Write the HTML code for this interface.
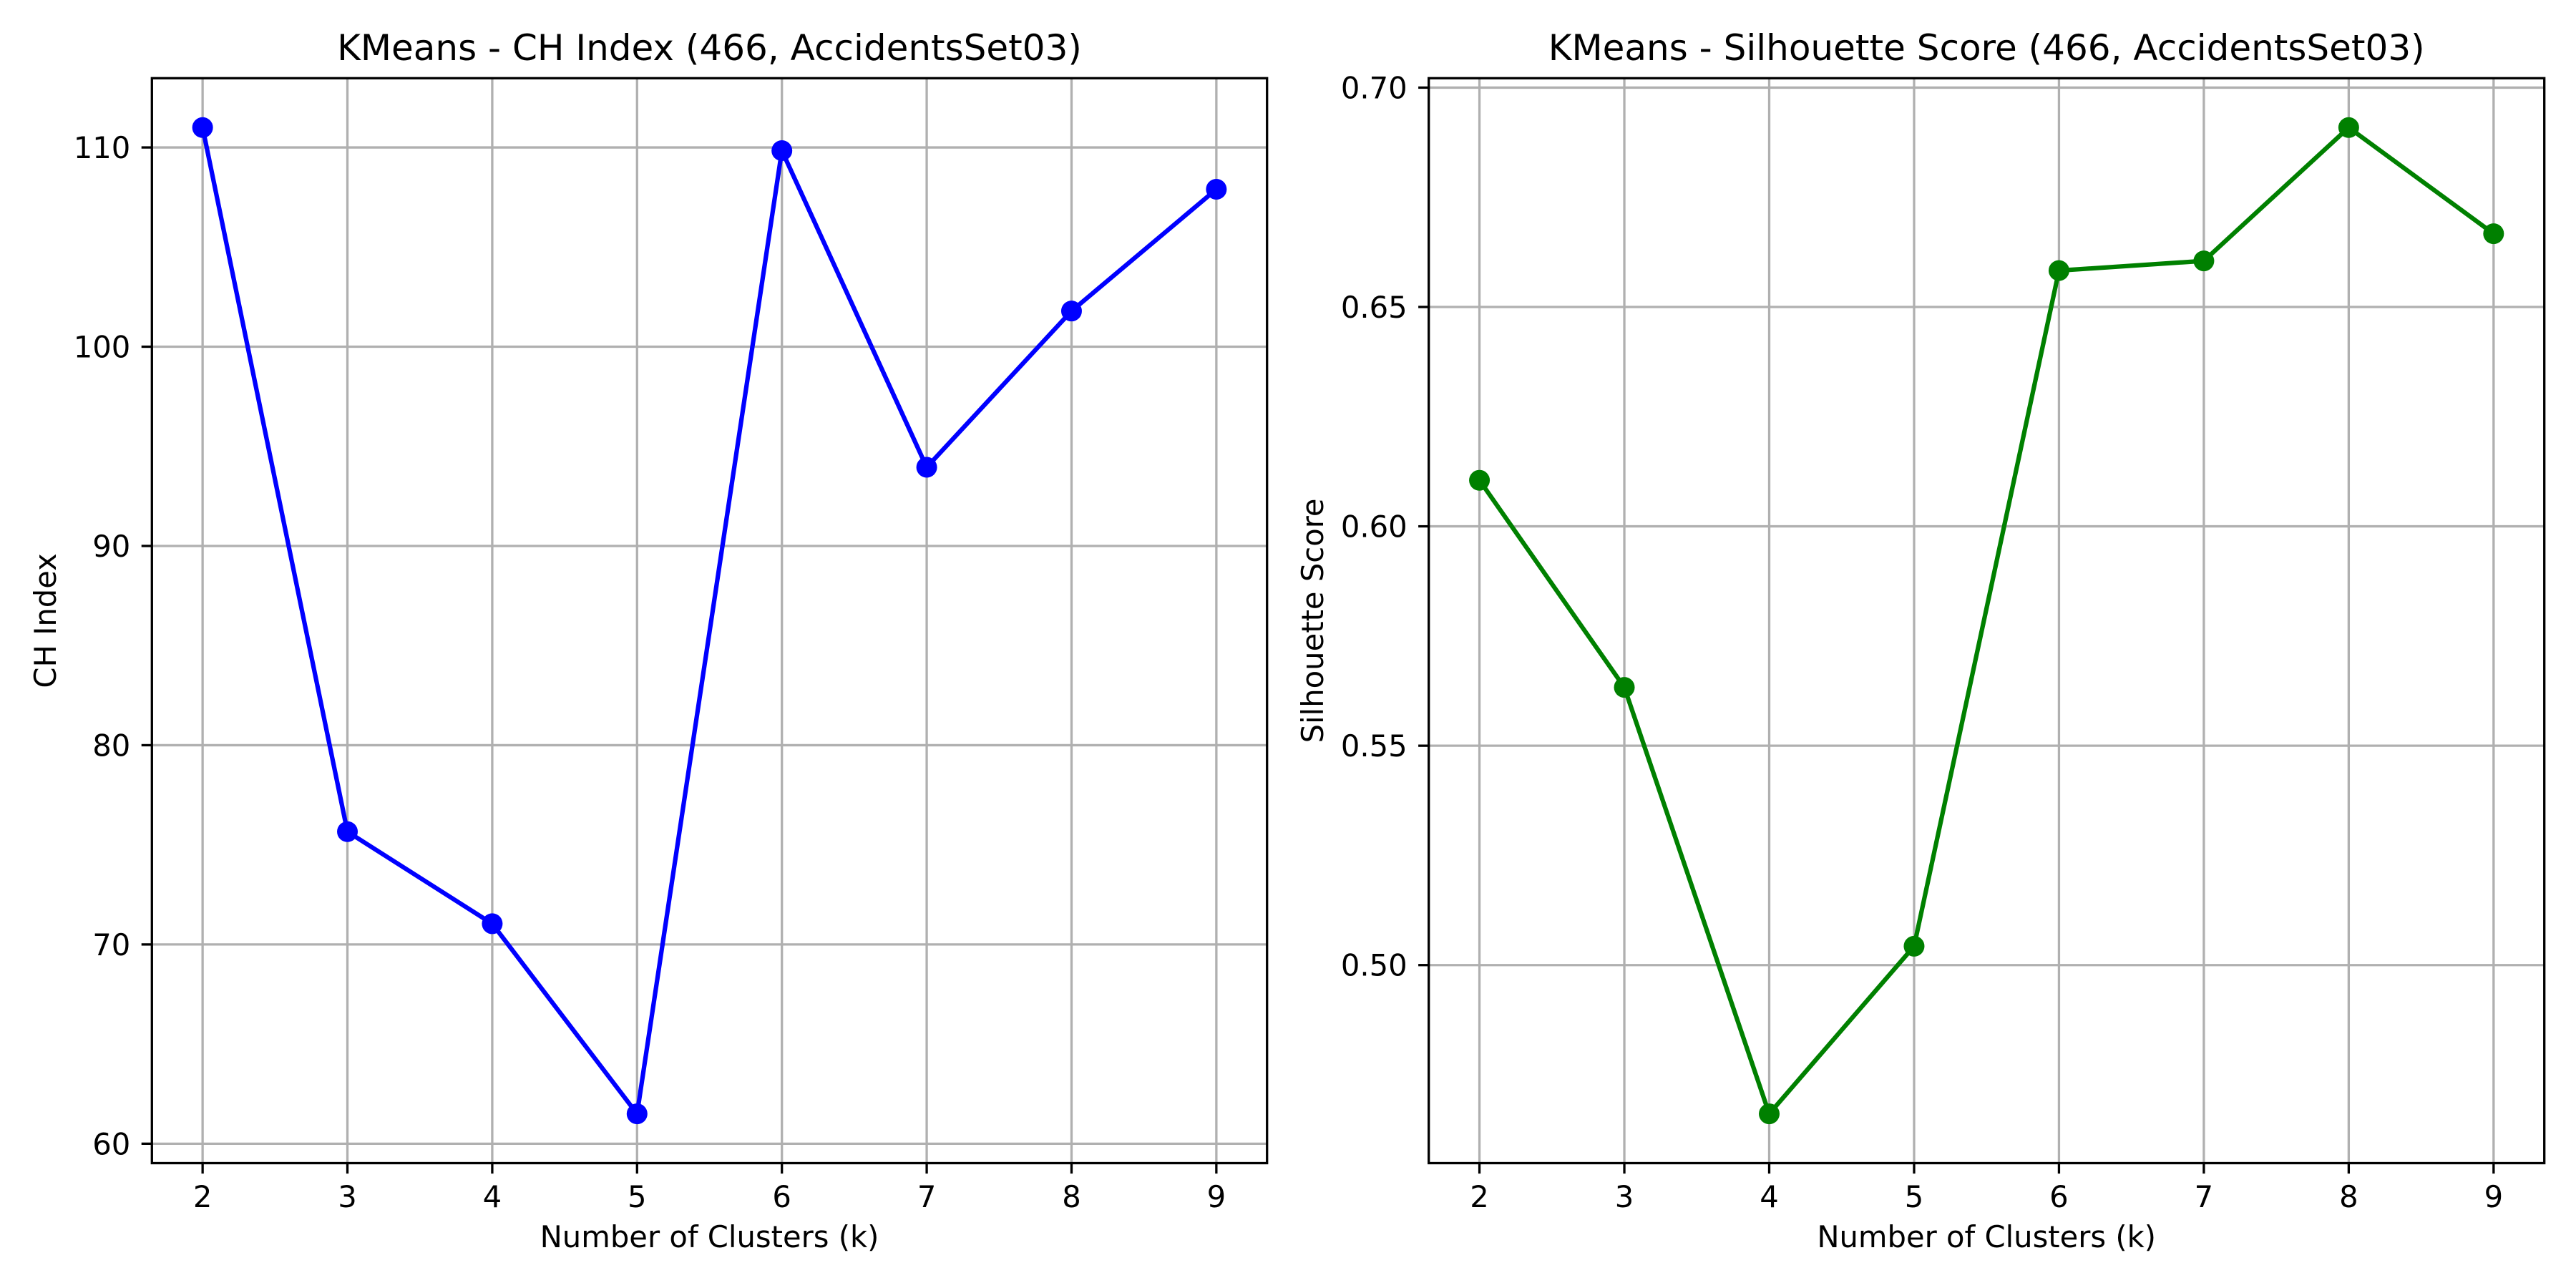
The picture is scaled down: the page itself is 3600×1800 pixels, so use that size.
<!DOCTYPE html>
<html><head><meta charset="utf-8"><style>
html,body{margin:0;padding:0;background:#fff;}
svg{display:block;font-family:"DejaVu Sans","Liberation Sans",sans-serif;}
</style></head><body>
<svg id="fig" width="3600" height="1800" viewBox="0 0 3600 1800"></svg>
<script>
const categories = [2,3,4,5,6,7,8,9];
const chValues = [111.0,75.66,71.04,61.5,109.84,93.95,101.79,107.9];
const silValues = [0.6105,0.5633,0.4661,0.5043,0.6583,0.6605,0.6909,0.6667];
const chTicks = [60,70,80,90,100,110];
const chTickLabels = ["60","70","80","90","100","110"];
const silTicks = [0.50,0.55,0.60,0.65,0.70];
const silTickLabels = ["0.50","0.55","0.60","0.65","0.70"];

const NS="http://www.w3.org/2000/svg";
const svg=document.getElementById('fig');
function mk(tag,attrs,parent){const e=document.createElementNS(NS,tag);for(const k in attrs)e.setAttribute(k,attrs[k]);(parent||svg).appendChild(e);return e;}

function panel(cfg){
  const g=mk('g',{});
  
  
  const L=cfg.left,R=cfg.right,T=109.3,B=1625.5;
  const xmin=Math.min(...categories),xmax=Math.max(...categories),xm=(xmax-xmin)*0.05;
  const vmin=Math.min(...cfg.values),vmax=Math.max(...cfg.values),vm=(vmax-vmin)*0.05;
  const x=v=>L+(v-(xmin-xm))/((xmax+xm)-(xmin-xm))*(R-L);
  const y=v=>B-(v-(vmin-vm))/((vmax+vm)-(vmin-vm))*(B-T);
  categories.forEach(c=>{const l=mk('line',{x1:x(c),x2:x(c),y1:T,y2:B,stroke:'#b0b0b0','stroke-width':3.3},g);
    
    });
  cfg.ticks.forEach(t=>{const l=mk('line',{x1:L,x2:R,y1:y(t),y2:y(t),stroke:'#b0b0b0','stroke-width':3.3},g);
    
    });
  const pts=categories.map((c,i)=>x(c)+','+y(cfg.values[i])).join(' ');
  const pl=mk('polyline',{points:pts,fill:'none',stroke:cfg.color,'stroke-width':6.25,'stroke-linejoin':'round','stroke-linecap':'square'},g);
  
  
  categories.forEach((c,i)=>{const m=mk('circle',{cx:x(c),cy:y(cfg.values[i]),r:14.5,fill:cfg.color},g);
    
    });
  const fr=mk('rect',{x:L,y:T,width:R-L,height:B-T,fill:'none',stroke:'#000','stroke-width':3.3},g);
  
  
  categories.forEach(c=>{mk('line',{x1:x(c),x2:x(c),y1:B,y2:B+14.6,stroke:'#000','stroke-width':3.3},g);
    const t=mk('text',{x:x(c),y:1687,'font-size':41.7,'text-anchor':'middle',fill:'#000'},g);t.textContent=c;
    
    });
  cfg.ticks.forEach((v,i)=>{mk('line',{x1:L-14.6,x2:L,y1:y(v),y2:y(v),stroke:'#000','stroke-width':3.3},g);
    const t=mk('text',{x:L-30,y:y(v)+15,'font-size':41.7,'text-anchor':'end',fill:'#000'},g);t.textContent=cfg.labels[i];
    
    });
  const ti=mk('text',{x:(L+R)/2,y:84,'font-size':50,'text-anchor':'middle',fill:'#000'},g);ti.textContent=cfg.title;
  
  
  const xl=mk('text',{x:(L+R)/2,y:1743,'font-size':41.7,'text-anchor':'middle',fill:'#000'},g);xl.textContent='Number of Clusters (k)';
  
  
  const cy=(T+B)/2;
  const yl=mk('text',{x:cfg.ylx,y:cy,'font-size':41.7,'text-anchor':'middle',fill:'#000',transform:`rotate(-90 ${cfg.ylx} ${cy})`},g);yl.textContent=cfg.ylabel;
  
  
}
panel({name:'ch-index-panel',left:212.3,right:1770.7,values:chValues,ticks:chTicks,labels:chTickLabels,color:'#0000ff',title:'KMeans - CH Index (466, AccidentsSet03)',ylabel:'CH Index',ylx:78});
panel({name:'silhouette-panel',left:1996.7,right:3555.7,values:silValues,ticks:silTicks,labels:silTickLabels,color:'#008000',title:'KMeans - Silhouette Score (466, AccidentsSet03)',ylabel:'Silhouette Score',ylx:1849});
</script>
</body></html>
